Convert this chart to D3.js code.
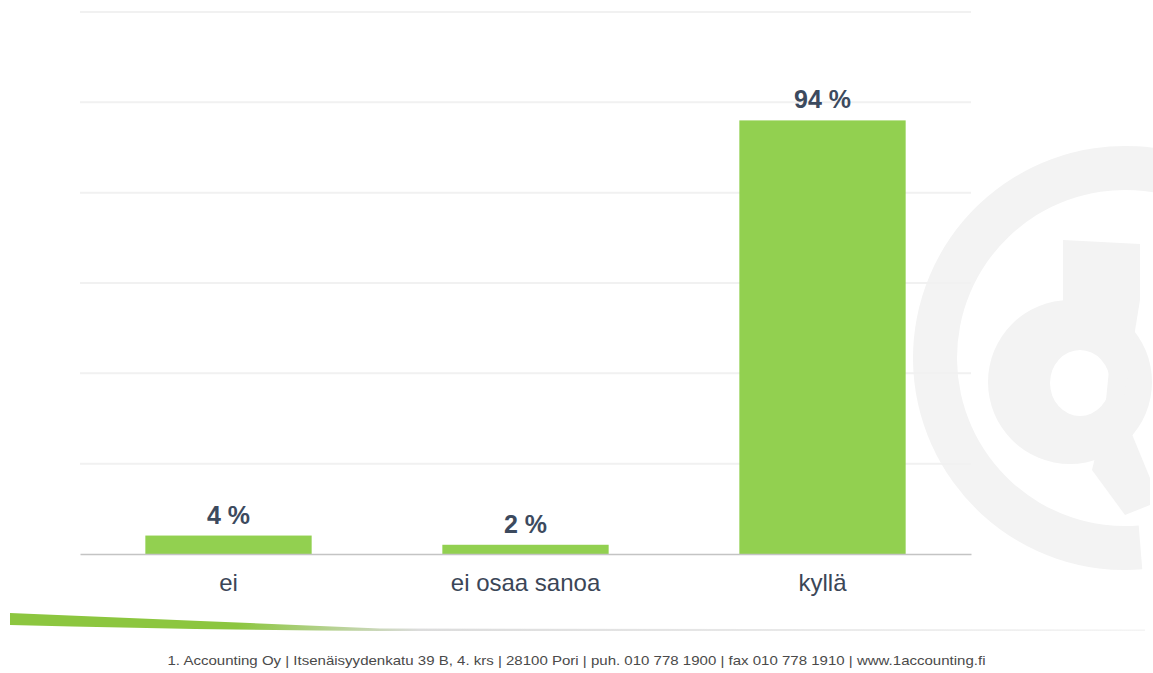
<!DOCTYPE html>
<html>
<head>
<meta charset="utf-8">
<script src="https://cdn.jsdelivr.net/npm/d3@7"></script>
<style>
  html, body { margin: 0; padding: 0; background: #ffffff; }
  svg { display: block; }
</style>
</head>
<body>
<svg id="chart" width="1153" height="673"></svg>
<script>
// Survey answers (percent of respondents)
const categories = ["ei", "ei osaa sanoa", "kyllä"];
const values = [4, 2, 94];
const valueLabels = ["4 %", "2 %", "94 %"];
const gridCount = 6;
const footerText = "1. Accounting Oy | Itsenäisyydenkatu 39 B, 4. krs | 28100 Pori | puh. 010 778 1900 | fax 010 778 1910 | www.1accounting.fi";

const W = 1153, H = 673;
const plot = { left: 80, right: 971, top: 12, bottom: 554 };
const yMax = 117.5;

const svg = d3.select("#chart");

// Background "@" watermark
const mark = svg.append("g").attr("fill", "#f3f3f3");
mark.append("path")
  .attr("transform", "translate(1125,358)")
  .attr("d", d3.arc()({ innerRadius: 168, outerRadius: 212, startAngle: 3.06, endAngle: 2 * Math.PI + 1.7 }));
mark.append("path")
  .attr("fill-rule", "evenodd")
  .attr("d", "M988,382a82,82 0 1,0 164,0a82,82 0 1,0 -164,0Z M1050,383a30,33 0 1,0 60,0a30,33 0 1,0 -60,0Z");
mark.append("path")
  .attr("d", "M1063,240 L1140,244 L1140,300 L1122,410 L1150,478 L1150,505 L1125,515 L1092,470 L1104,420 L1112,340 L1063,305 Z");

const x = d3.scaleBand()
  .domain(categories)
  .range([plot.left, plot.right])
  .paddingInner(0.44)
  .paddingOuter(0.22);

const y = d3.scaleLinear()
  .domain([0, yMax])
  .range([plot.bottom, plot.top]);

// Horizontal gridlines
const gridValues = d3.range(1, gridCount + 1).map(i => yMax * i / gridCount);
svg.append("g")
  .selectAll("line")
  .data(gridValues)
  .join("line")
  .attr("x1", plot.left)
  .attr("x2", plot.right)
  .attr("y1", d => y(d))
  .attr("y2", d => y(d))
  .attr("stroke", "#f1f1f1")
  .attr("stroke-width", 2);

// Bars
svg.append("g")
  .selectAll("rect")
  .data(values)
  .join("rect")
  .attr("x", (d, i) => x(categories[i]))
  .attr("width", x.bandwidth())
  .attr("y", d => y(d))
  .attr("height", d => y(0) - y(d))
  .attr("fill", "#92d050");

// Baseline axis with category labels
const xAxis = svg.append("g")
  .attr("transform", `translate(0,${plot.bottom})`)
  .call(d3.axisBottom(x).tickSize(0).tickPadding(20));
xAxis.select(".domain").attr("stroke", "#c4c4c4").attr("stroke-width", 1.5);
xAxis.selectAll("text")
  .attr("font-family", "'Liberation Sans', Arial, sans-serif")
  .attr("font-size", 24)
  .attr("fill", "#3b4657");

// Value labels
svg.append("g")
  .selectAll("text")
  .data(values)
  .join("text")
  .attr("x", (d, i) => x(categories[i]) + x.bandwidth() / 2)
  .attr("y", d => y(d) - 12)
  .attr("text-anchor", "middle")
  .attr("font-family", "'Liberation Sans', Arial, sans-serif")
  .attr("font-weight", "bold")
  .attr("font-size", 25)
  .attr("fill", "#3c4a5e")
  .text((d, i) => valueLabels[i]);

// Footer swoosh
const defs = svg.append("defs");
const grad = defs.append("linearGradient").attr("id", "swoosh").attr("x1", "0").attr("x2", "1");
grad.append("stop").attr("offset", "0").attr("stop-color", "#8cc63f");
grad.append("stop").attr("offset", "0.2").attr("stop-color", "#8cc63f");
grad.append("stop").attr("offset", "0.36").attr("stop-color", "#dcdcdc");
grad.append("stop").attr("offset", "1").attr("stop-color", "#f4f4f4");
svg.append("path")
  .attr("d", "M10,613 Q200,621 380,628.5 L1145,629.5 L1145,631 L380,631 Q200,630 10,625 Z")
  .attr("fill", "url(#swoosh)");

// Footer contact line
svg.append("text")
  .attr("x", W / 2)
  .attr("y", 665)
  .attr("text-anchor", "middle")
  .attr("font-family", "'Liberation Sans', Arial, sans-serif")
  .attr("font-size", 13)
  .attr("fill", "#4a4a4a")
  .attr("textLength", 818)
  .attr("lengthAdjust", "spacingAndGlyphs")
  .text(footerText);
</script>
</body>
</html>
